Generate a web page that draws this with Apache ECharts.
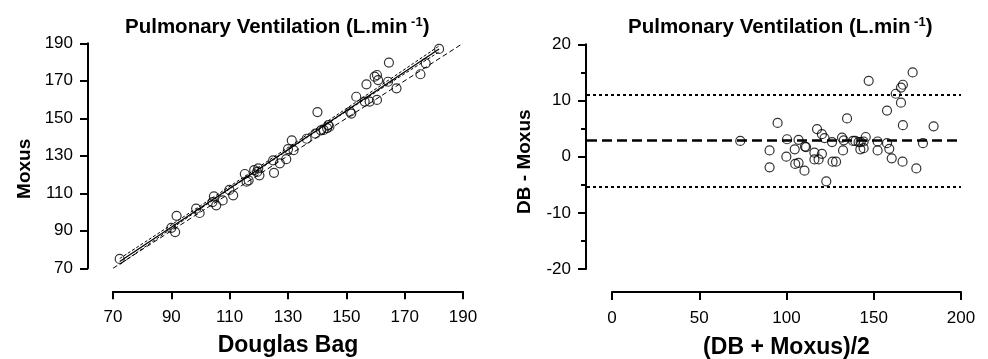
<!DOCTYPE html>
<html>
<head>
<meta charset="utf-8">
<script src="https://cdn.jsdelivr.net/npm/echarts@6/dist/echarts.min.js"></script>
<style>
  html, body { margin: 0; padding: 0; background: #fff; }
  #chart { width: 988px; height: 359px; }
</style>
</head>
<body>
<div id="chart"></div>
<script>
// left panel: Douglas Bag vs Moxus
const dbMoxus = [
  [72.3, 75.0], [90.0, 91.6], [91.3, 89.3], [91.8, 98.0], [98.5, 101.8], [99.7, 99.5],
  [104.1, 105.3], [104.6, 108.4], [105.4, 103.6], [107.6, 106.2], [109.9, 111.8], [111.2, 108.9],
  [115.2, 120.3], [115.8, 116.2], [116.5, 116.9], [118.4, 122.4], [119.8, 123.3], [119.4, 121.4],
  [120.2, 119.6], [124.9, 127.6], [125.2, 120.9], [127.2, 126.0], [129.4, 128.2], [130.0, 133.6],
  [131.3, 138.2], [131.9, 133.0], [136.4, 139.1], [139.4, 141.8], [140.1, 153.3], [141.3, 143.6],
  [142.2, 143.8], [143.4, 144.8], [143.8, 146.4], [144.2, 145.5], [151.3, 153.5], [151.7, 152.5],
  [153.4, 161.5], [156.9, 168.1], [156.3, 158.9], [158.0, 158.9], [160.5, 159.8], [159.7, 172.2],
  [160.5, 173.1], [160.9, 170.4], [164.3, 169.5], [164.6, 179.7], [167.2, 166.0], [175.4, 173.5],
  [177.2, 179.3], [181.8, 187.0]
];
const fitLine = [[72.3, 73.6], [181.8, 187.0]];
const upperBand = [[72.3, 75.2], [100, 103.4], [127, 131.3], [155, 160.4], [181.8, 188.6]];
const lowerBand = [[72.3, 72.0], [100, 101.8], [127, 129.9], [155, 158.8], [181.8, 185.4]];
const identityLine = [[70, 70], [190, 190]];

// right panel: Bland-Altman
const meanDiff = [
  [73.5, 2.8], [90.3, 1.1], [90.3, -1.9], [94.9, 6.0], [100.3, 3.1], [99.9, 0.0], [104.7, 1.3],
  [106.9, 3.0], [105.0, -1.3], [106.9, -1.1], [110.6, 1.8], [111.2, 1.7], [110.3, -2.5], [117.5, 4.9],
  [120.3, 4.0], [121.8, 3.3], [116.0, 0.7], [116.0, -0.5], [118.4, -0.5], [120.3, 0.5], [122.8, -4.4],
  [126.1, 2.6], [126.4, -0.9], [128.4, -0.9], [131.8, 3.4], [132.8, 2.9], [132.4, 1.1], [134.7, 6.8],
  [138.1, 2.8], [139.4, 2.8], [141.3, 2.6], [142.5, 2.6], [144.2, 2.7], [142.3, 1.3], [144.2, 1.5],
  [145.4, 3.5], [147.1, 13.5], [152.2, 2.7], [152.2, 1.1], [157.6, 8.2], [157.6, 2.4], [158.9, 1.4],
  [160.3, -0.3], [162.6, 11.2], [165.6, 12.3], [166.7, 12.8], [165.6, 9.6], [166.7, 5.6], [166.5, -0.9],
  [172.3, 15.0], [174.4, -2.1], [178.2, 2.4], [184.3, 5.4]
];
const bias = 2.85;
const upperLimit = 11.1;
const lowerLimit = -5.4;

const font = 'Liberation Sans';
const black = '#000';

function axisBase(isX) {
  return {
    axisLine: {show: true, onZero: false, lineStyle: {color: black, width: 2}},
    axisTick: {show: true, length: 8, lineStyle: {color: black, width: 2}},
    axisLabel: {color: black, fontSize: 17, fontFamily: font, margin: isX ? 18 : 15},
    splitLine: {show: false},
    nameTextStyle: {color: black, fontSize: isX ? 23 : 19, fontWeight: 'bold', fontFamily: font},
    nameLocation: 'middle'
  };
}

const titleRich = {
  a: {fontSize: 20.5, fontWeight: 'bold', fontFamily: font, color: black},
  s: {fontSize: 13, fontWeight: 'bold', fontFamily: font, color: black, padding: [0, 0, 10, 0]}
};

const chart = echarts.init(document.getElementById('chart'));
chart.setOption({
  animation: false,
  backgroundColor: '#fff',
  title: [
    {text: '{a|Pulmonary Ventilation (L.min}{s| -1}{a|)}', left: 120, top: 11, textStyle: {rich: titleRich}},
    {text: '{a|Pulmonary Ventilation (L.min}{s| -1}{a|)}', left: 623, top: 11, textStyle: {rich: titleRich}}
  ],
  grid: [
    {left: 113, top: 43.3, width: 350, height: 225, outerBoundsMode: 'none'},
    {left: 587, top: 44.3, width: 374, height: 224.7, outerBoundsMode: 'none'},
    {left: 612, top: 44.3, width: 349, height: 224.7, outerBoundsMode: 'none'}
  ],
  xAxis: [
    Object.assign(axisBase(true), {
      gridIndex: 0, type: 'value', min: 70, max: 190, interval: 20, offset: 23,
      name: 'Douglas Bag', nameGap: 43
    }),
    {gridIndex: 1, type: 'value', min: -14.33, max: 200, show: false},
    Object.assign(axisBase(true), {
      gridIndex: 2, type: 'value', min: 0, max: 200, interval: 50, offset: 23,
      name: '(DB + Moxus)/2', nameGap: 44
    })
  ],
  yAxis: [
    Object.assign(axisBase(false), {
      gridIndex: 0, type: 'value', min: 70, max: 190, interval: 20, offset: 25,
      name: 'Moxus', nameGap: 54, nameRotate: 90
    }),
    Object.assign(axisBase(false), {
      gridIndex: 1, type: 'value', min: -20, max: 20, interval: 10, offset: 1,
      minorTick: {show: true, splitNumber: 2, length: 5, lineStyle: {color: black, width: 2}},
      name: 'DB - Moxus', nameGap: 52, nameRotate: 90
    }),
    {gridIndex: 2, type: 'value', min: 0, max: 1, show: false}
  ],
  series: [
    {
      type: 'line', xAxisIndex: 0, yAxisIndex: 0, data: identityLine, symbol: 'none',
      lineStyle: {color: black, width: 1, type: [5, 3]}, silent: true
    },
    {
      type: 'line', xAxisIndex: 0, yAxisIndex: 0, data: upperBand, symbol: 'none', smooth: true,
      lineStyle: {color: black, width: 1, type: [3, 2]}, silent: true
    },
    {
      type: 'line', xAxisIndex: 0, yAxisIndex: 0, data: lowerBand, symbol: 'none', smooth: true,
      lineStyle: {color: black, width: 1, type: [3, 2]}, silent: true
    },
    {
      type: 'line', xAxisIndex: 0, yAxisIndex: 0, data: fitLine, symbol: 'none',
      lineStyle: {color: black, width: 1.3}, silent: true
    },
    {
      type: 'scatter', xAxisIndex: 0, yAxisIndex: 0, data: dbMoxus,
      symbol: 'circle', symbolSize: 9,
      itemStyle: {color: 'rgba(255,255,255,0)', borderColor: black, borderWidth: 1.2}
    },
    {
      type: 'scatter', xAxisIndex: 1, yAxisIndex: 1, data: meanDiff,
      symbol: 'circle', symbolSize: 9,
      itemStyle: {color: 'rgba(255,255,255,0)', borderColor: black, borderWidth: 1.2},
      markLine: {
        silent: true, symbol: 'none', label: {show: false},
        data: [
          {yAxis: bias, lineStyle: {color: black, width: 2.5, type: [10, 5]}},
          {yAxis: upperLimit, lineStyle: {color: black, width: 2, type: [3, 3]}},
          {yAxis: lowerLimit, lineStyle: {color: black, width: 2, type: [3, 3]}}
        ]
      }
    }
  ]
});
// nudge the rotated y titles down a little, as in the source figure
chart.setOption({
  yAxis: [
    {nameTextStyle: {padding: [0, 26, 0, 0]}},
    {nameTextStyle: {padding: [0, 10, 0, 0]}},
    {}
  ]
});
</script>
</body>
</html>
